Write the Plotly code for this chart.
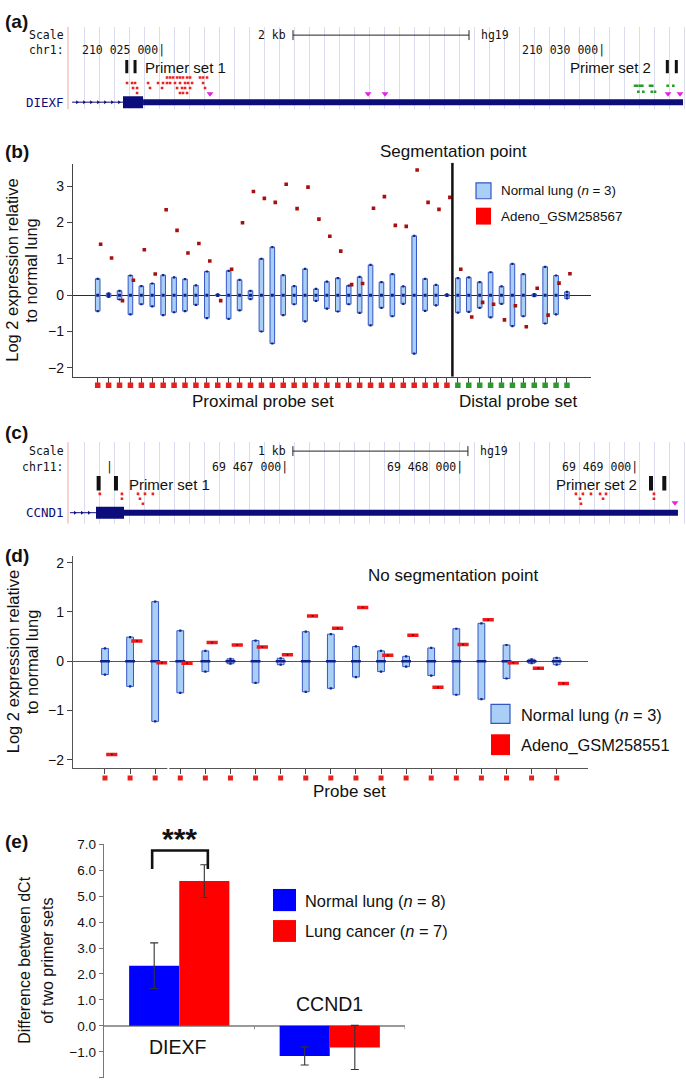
import numpy as np
import plotly.graph_objects as go

W, H = 686, 1083
SANS = "Arial, Liberation Sans, Helvetica, sans-serif"
MONO = "DejaVu Sans Mono, Liberation Mono, monospace"

# ========================= DATA =========================
# (a) UCSC view of the DIEXF locus, chr1 (hg19)
a_view = [210023920, 210030943]
a_gene_name = "DIEXF"
a_intron = [210023966, 210024545]
a_cds = [210024545, 210024773]
a_utr = [210024773, 210030909]
a_primer_set1 = [210024588, 210024682]
a_primer_set2 = [210030731, 210030833]
a_snp_red_rows = [
    [210025045, 210025080, 210025114, 210025159, 210025193, 210025227, 210025273, 210025307, 210025420, 210025455, 210025500],
    [210024591, 210024648, 210024682, 210024830, 210024943, 210025000, 210025045, 210025080, 210025136, 210025193, 210025250, 210025284, 210025330, 210025455],
    [210024659, 210024705, 210024852, 210024989, 210025159, 210025216, 210025250, 210025307, 210025477],
    [210024705, 210025193, 210025227, 210025273],
]
a_snp_green_rows = [
    [210030364, 210030390, 210030421, 210030447, 210030534, 210030560, 210030735, 210030799],
    [210030401, 210030458, 210030554, 210030591],
]
a_snp_magenta = [210025534, 210027330, 210027523, 210030739, 210030875]
a_ruler_ticks = [210025000, 210030000]
a_scale_bar = [210026477, 210028477]
a_scale_label = "2 kb"
a_chrom = "chr1:"

# (b) DIEXF probes: normal lung range (n = 3) and Adeno_GSM258567
b_normal_high = [0.45, 0.05, 0.12, 0.54, 0.25, 0.32, 0.55, 0.49, 0.44, 0.27, 0.65, 0.02, 0.67, 0.42, 0.12, 1.00,
                 1.32, 0.55, 0.25, 0.72, 0.17, 0.37, 0.47, 0.26, 0.50, 0.83, 0.36, 0.58, 0.24, 1.63, 0.45, 0.28,
                 0.02, 0.47, 0.49, 0.36, 0.63, 0.24, 0.86, 0.58, 0.03, 0.78, 0.54, 0.09]
b_normal_low = [-0.44, -0.05, -0.12, -0.53, -0.25, -0.31, -0.55, -0.47, -0.44, -0.27, -0.63, -0.02, -0.65, -0.42,
                -0.11, -1.00, -1.33, -0.55, -0.25, -0.72, -0.16, -0.37, -0.45, -0.25, -0.49, -0.83, -0.35, -0.58,
                -0.24, -1.61, -0.43, -0.28, -0.02, -0.48, -0.46, -0.35, -0.61, -0.24, -0.85, -0.58, -0.03, -0.78,
                -0.53, -0.09]
b_adeno = [1.40, 1.02, -0.15, 0.41, 1.25, 0.58, 2.35, 1.78, 1.16, 1.42, 0.94, -0.15, 0.71, 1.99, 2.85, 2.66, 2.55,
           3.05, 2.38, 2.97, 2.09, 1.62, 1.21, 0.29, 0.32, 2.39, 2.71, 1.92, 1.89, 3.44, 2.55, 2.36, 2.69, 0.71,
           -0.60, -0.20, -0.25, -0.68, -0.29, -0.87, 0.19, -0.55, 0.33, 0.59]
b_n_proximal = 33
b_n_distal = 11
b_yticks = [-2, -1, 0, 1, 2, 3]

# (c) UCSC view of the CCND1 locus, chr11 (hg19)
c_view = [69465749, 69469280]
c_gene_name = "CCND1"
c_intron = [69465760, 69465909]
c_cds = [69465909, 69466069]
c_utr = [69466069, 69469234]
c_primer_set1 = [69465924, 69466023]
c_primer_set2 = [69469080, 69469156]
c_snp_red_rows = [
    [69465931, 69466057, 69466149, 69466189, 69466234, 69468651, 69468691, 69468737, 69468789, 69468823, 69469097],
    [69466057, 69466160, 69468674, 69468806, 69469097],
    [69466177, 69468680],
]
c_snp_magenta = [69469217]
c_ruler_ticks = [69466000, 69467000, 69468000, 69469000]
c_scale_bar = [69467034, 69468034]
c_scale_label = "1 kb"
c_chrom = "chr11:"

# (d) CCND1 probes: normal lung range (n = 3) and Adeno_GSM258551
d_normal_high = [0.26, 0.49, 1.21, 0.62, 0.21, 0.05, 0.42, 0.06, 0.60, 0.55, 0.30, 0.21, 0.10, 0.27, 0.66, 0.77,
                 0.33, 0.04, 0.07]
d_normal_low = [-0.27, -0.51, -1.22, -0.64, -0.21, -0.05, -0.44, -0.07, -0.62, -0.55, -0.32, -0.21, -0.11, -0.29,
                -0.68, -0.77, -0.35, -0.04, -0.07]
d_adeno = [-1.89, 0.41, -0.03, -0.04, 0.38, 0.33, 0.29, 0.13, 0.92, 0.67, 1.09, 0.12, 0.53, -0.53, 0.34, 0.84,
           -0.03, -0.14, -0.45]
d_yticks = [-2, -1, 0, 1, 2]

# (e) qPCR: difference between dCt of the two primer sets
e_genes = ["DIEXF", "CCND1"]
e_normal = [2.32, -1.16]
e_normal_err = [0.88, 0.35]
e_cancer = [5.58, -0.83]
e_cancer_err = [0.63, 0.85]
e_yticks = [-2, -1, 0, 1, 2, 3, 4, 5, 6, 7]

# ========================= STYLE / HELPERS =========================
NAVY = "#0c0c7a"
BOX_FILL = "#a9cff7"
BOX_LINE = "#3557c4"
DARK_BLUE = "#10208a"
PROBE_RED = "#e8201c"
PROBE_GREEN = "#2a9a2a"
SNP_RED = "#ec2222"
MAGENTA = "#e61ee6"
GRID = "#dcdcf0"


def px(x):
    return x / W


def py(y):
    return 1 - y / H


def dom_x(l, r):
    return [l / W, r / W]


def dom_y(t, b):
    return [1 - b / H, 1 - t / H]


def minus(v, fmt="{:g}"):
    s = fmt.format(abs(v))
    return ("\u2212" + s) if v < 0 else s


fig = go.Figure()
shapes = []
ann = []


def text(x, y, t, size, xanchor="center", yanchor="middle", xref="paper", yref="paper", color="#111",
         family=SANS, angle=0, xshift=0):
    ann.append(dict(x=x, y=y, text=t, xref=xref, yref=yref, xanchor=xanchor, yanchor=yanchor, showarrow=False,
                    font=dict(size=size, color=color, family=family), textangle=angle, xshift=xshift))


# ========================= BROWSER PANELS (a) & (c) =========================
def browser(ax, view, top, bot, ylay, gene_name, intron, cds, utr, p1, p2, snp_rows, snp_row_y, green_rows,
            green_row_y, magenta, magenta_y, ruler, scale_bar, scale_label, chrom, mono_size,
            p1_shift, p2_shift, primer_w, label_shift):
    xa = "x" if ax == 1 else "x%d" % ax
    ya = "y" if ax == 1 else "y%d" % ax
    ppb = (686 - 68) / (view[1] - view[0])
    fig.layout["xaxis" if ax == 1 else "xaxis%d" % ax] = dict(
        domain=dom_x(68, 686), range=view, anchor=ya, showgrid=True, gridcolor=GRID, gridwidth=1,
        tickmode="linear", tick0=view[0] + 16 / ppb, dtick=15 / ppb, ticks="", showticklabels=False,
        zeroline=False, showline=False)
    fig.layout["yaxis" if ax == 1 else "yaxis%d" % ax] = dict(
        domain=dom_y(top, bot), range=[bot, top], anchor=xa, showgrid=False, zeroline=False,
        showticklabels=False, ticks="", showline=False)
    # pink left border
    shapes.append(dict(type="line", xref="paper", yref="paper", x0=px(68), x1=px(68), y0=py(top), y1=py(bot),
                       line=dict(color="#f2a4a4", width=1)))
    # scale bar
    sy = ylay["scale"]
    shapes.append(dict(type="line", xref=xa, yref=ya, x0=scale_bar[0], x1=scale_bar[1], y0=sy, y1=sy,
                       line=dict(color="#222", width=1)))
    for xb in scale_bar:
        shapes.append(dict(type="line", xref=xa, yref=ya, x0=xb, x1=xb, y0=sy - 5, y1=sy + 5,
                           line=dict(color="#222", width=1)))
    text(scale_bar[0], sy, scale_label, mono_size, xanchor="right", xref=xa, yref=ya, family=MONO, xshift=-5)
    text(scale_bar[1], sy, "hg19", mono_size, xanchor="left", xref=xa, yref=ya, family=MONO, xshift=10)
    text(px(66), py(sy), "Scale", mono_size, xanchor="right", family=MONO)
    text(px(66), py(ylay["chrom"]), chrom, mono_size, xanchor="right", family=MONO)
    for i, t in enumerate(ruler):
        lab = (f"{t:,}".replace(",", " ") + "|") if i >= (len(ruler) - label_shift) else "|"
        text(t, ylay["chrom"], lab, mono_size, xanchor="right", xref=xa, yref=ya, family=MONO, xshift=3.5)
    # primers
    for xb in p1 + p2:
        shapes.append(dict(type="line", xref=xa, yref=ya, x0=xb, x1=xb, y0=ylay["p0"], y1=ylay["p1"],
                           line=dict(color="#111", width=primer_w)))
    text(p1[1], ylay["ptext"], "Primer set 1", 15, xanchor="left", xref=xa, yref=ya, xshift=p1_shift)
    text(p2[0], ylay["ptext"], "Primer set 2", 15, xanchor="right", xref=xa, yref=ya, xshift=p2_shift)
    # SNP dots
    for row, yy in zip(snp_rows, snp_row_y):
        fig.add_trace(go.Scatter(x=row, y=[yy] * len(row), mode="markers", xaxis=xa, yaxis=ya, hoverinfo="skip",
                                 marker=dict(symbol="square", size=2.6, color=SNP_RED, line=dict(width=0))))
    for row, yy in zip(green_rows, green_row_y):
        fig.add_trace(go.Scatter(x=row, y=[yy] * len(row), mode="markers", xaxis=xa, yaxis=ya, hoverinfo="skip",
                                 marker=dict(symbol="square", size=2.6, color=PROBE_GREEN, line=dict(width=0))))
    fig.add_trace(go.Scatter(x=magenta, y=[magenta_y] * len(magenta), mode="markers", xaxis=xa, yaxis=ya,
                             hoverinfo="skip",
                             marker=dict(symbol="triangle-down", size=6, color=MAGENTA, line=dict(width=0))))
    # gene model
    gy = ylay["gene"]
    fig.add_trace(go.Scatter(x=intron, y=[gy, gy], mode="lines", xaxis=xa, yaxis=ya, hoverinfo="skip",
                             line=dict(color=NAVY, width=1)))
    chev = np.arange(intron[0] + 5 / ppb, intron[1] - 3 / ppb, 7 / ppb)
    fig.add_trace(go.Scatter(x=chev, y=[gy] * len(chev), mode="markers", xaxis=xa, yaxis=ya, hoverinfo="skip",
                             marker=dict(symbol="triangle-right", size=3.5, color=NAVY, line=dict(width=0))))
    shapes.append(dict(type="rect", xref=xa, yref=ya, x0=cds[0], x1=cds[1], y0=gy - 6, y1=gy + 6,
                       fillcolor=NAVY, line=dict(width=0)))
    shapes.append(dict(type="rect", xref=xa, yref=ya, x0=utr[0], x1=utr[1], y0=gy - 3, y1=gy + 3,
                       fillcolor=NAVY, line=dict(width=0)))
    text(px(66), py(gy), gene_name, mono_size + 1, xanchor="right", family=MONO, color=NAVY)


browser(1, a_view, 20, 103,
        dict(scale=28.3, chrom=43.5, p0=53.3, p1=66.7, ptext=61, gene=95.8),
        a_gene_name, a_intron, a_cds, a_utr, a_primer_set1, a_primer_set2,
        a_snp_red_rows, [71, 76.5, 81.5, 86.5], a_snp_green_rows, [79.3, 85.3],
        a_snp_magenta, 87.3, a_ruler_ticks, a_scale_bar, a_scale_label, a_chrom, 11.5,
        8, -14, 3, 2)

browser(3, c_view, 438, 520,
        dict(scale=447, chrom=462.5, p0=472, p1=486.7, ptext=480.5, gene=509),
        c_gene_name, c_intron, c_cds, c_utr, c_primer_set1, c_primer_set2,
        c_snp_red_rows, [490, 495, 500], [], [],
        c_snp_magenta, 499, c_ruler_ticks, c_scale_bar, c_scale_label, c_chrom, 11.5,
        11, -12, 4, 3)

# ========================= PANEL (b) =========================
B_TOP, B_BOT = 158, 372
B_YR = [-2.240, 3.607]
b_idx = np.arange(1, b_n_proximal + b_n_distal + 1)
b_high = np.array(b_normal_high)
b_low = np.array(b_normal_low)

fig.add_trace(go.Bar(x=b_idx, y=b_high - b_low, base=b_low, width=0.42, xaxis="x2", yaxis="y2",
                     marker=dict(color=BOX_FILL, line=dict(color=BOX_LINE, width=1)), hoverinfo="skip"))
fig.add_trace(go.Scatter(x=np.concatenate([b_idx, b_idx]), y=np.concatenate([b_high, b_low]), mode="markers",
                         xaxis="x2", yaxis="y2", hoverinfo="skip",
                         marker=dict(symbol="square", size=2.2, color=DARK_BLUE)))
fig.add_trace(go.Scatter(x=b_idx, y=[0] * len(b_idx), mode="markers", xaxis="x2", yaxis="y2", hoverinfo="skip",
                         marker=dict(symbol="square", size=3, color=DARK_BLUE)))
fig.add_trace(go.Scatter(x=b_idx + 0.27, y=b_adeno, mode="markers", xaxis="x2", yaxis="y2", hoverinfo="skip",
                         marker=dict(symbol="square", size=3.6, color="#a81010", line=dict(width=0))))
b_probe_colors = [PROBE_RED] * b_n_proximal + [PROBE_GREEN] * b_n_distal
# probe-set strip below the axis (own thin y axis)
fig.add_trace(go.Scatter(x=b_idx, y=[0.5] * len(b_idx), mode="markers", xaxis="x2", yaxis="y6",
                         hoverinfo="skip",
                         marker=dict(symbol="square", size=5.5, color=b_probe_colors, line=dict(width=0))))

fig.layout.xaxis2 = dict(domain=dom_x(73, 591), range=[-1.263, 46.2], anchor="y2", showgrid=False, zeroline=False,
                         showline=True, linecolor="#444", linewidth=1.2, ticks="outside", ticklen=5,
                         tickcolor="#444", tickwidth=1, tickvals=list(b_idx), showticklabels=False)
fig.layout.yaxis2 = dict(domain=dom_y(B_TOP, B_BOT), range=B_YR, anchor="x2", showgrid=False, zeroline=True,
                         zerolinecolor="#1c2866", zerolinewidth=1.2, showline=True, linecolor="#444",
                         linewidth=1.2, ticks="outside", ticklen=5, tickcolor="#444", tickvals=b_yticks,
                         ticktext=[minus(v) for v in b_yticks], tickfont=dict(size=14, color="#111", family=SANS))
fig.layout.yaxis6 = dict(domain=dom_y(375.7, 385.7), range=[0, 1], anchor="x2", visible=False,
                         showgrid=False, zeroline=False)
# segmentation point
seg = b_n_proximal + 0.5
shapes.append(dict(type="line", xref="x2", yref="y2 domain", x0=seg, x1=seg, y0=0, y1=1.005,
                   line=dict(color="#111", width=2.5)))
text(px(453), py(145), "Segmentation point", 17)
text(px(263), py(397), "Proximal probe set", 17)
text(px(517.5), py(397), "Distal probe set", 17)
text(px(12.5), py(265), "Log 2 expression relative", 16.5, angle=-90)
text(px(31.5), py(265), "to normal lung", 16.5, angle=-90)
shapes.append(dict(type="rect", xref="paper", yref="paper", x0=px(476), x1=px(491), y0=py(193), y1=py(177),
                   fillcolor=BOX_FILL, line=dict(color=BOX_LINE, width=1.2)))
shapes.append(dict(type="rect", xref="paper", yref="paper", x0=px(476), x1=px(491), y0=py(219), y1=py(202),
                   fillcolor="#ff0000", line=dict(width=0)))
text(px(498.5), py(185), "Normal lung (<i>n</i> = 3)", 13.4, xanchor="left")
text(px(498.5), py(210.5), "Adeno_GSM258567", 13.4, xanchor="left")

# ========================= PANEL (d) =========================
D_TOP, D_BOT = 553, 765.7
D_YR = [-2.161, 2.127]
d_idx = np.arange(1, len(d_adeno) + 1)
d_high = np.array(d_normal_high)
d_low = np.array(d_normal_low)

fig.add_trace(go.Bar(x=d_idx, y=d_high - d_low, base=d_low, width=0.27, xaxis="x4", yaxis="y4",
                     marker=dict(color=BOX_FILL, line=dict(color=BOX_LINE, width=1)), hoverinfo="skip"))
fig.add_trace(go.Scatter(x=np.concatenate([d_idx, d_idx]), y=np.concatenate([d_high, d_low]), mode="markers",
                         xaxis="x4", yaxis="y4", hoverinfo="skip",
                         marker=dict(symbol="square", size=2.2, color=DARK_BLUE)))
fig.add_trace(go.Scatter(x=d_idx, y=[0] * len(d_idx), mode="markers", xaxis="x4", yaxis="y4", hoverinfo="skip",
                         marker=dict(symbol="line-ew", size=7, line=dict(color=DARK_BLUE, width=2.5))))
fig.add_trace(go.Scatter(x=d_idx + 0.27, y=d_adeno, mode="markers", xaxis="x4", yaxis="y4", hoverinfo="skip",
                         marker=dict(symbol="line-ew", size=8, line=dict(color="#f01818", width=3.5))))
fig.add_trace(go.Scatter(x=d_idx + 0.27, y=d_adeno, mode="markers", xaxis="x4", yaxis="y4", hoverinfo="skip",
                         marker=dict(symbol="square", size=1.6, color="#700000")))
fig.add_trace(go.Scatter(x=d_idx, y=[0.5] * len(d_idx), mode="markers", xaxis="x4", yaxis="y7",
                         hoverinfo="skip",
                         marker=dict(symbol="square", size=5, color=PROBE_RED, line=dict(width=0))))

fig.layout.xaxis4 = dict(domain=dom_x(73, 587.7), range=[-0.275, 20.236], anchor="y4", showgrid=False,
                         zeroline=False, showline=True, linecolor="#555", linewidth=1.2, ticks="outside",
                         ticklen=5, tickcolor="#444", tickvals=list(d_idx), showticklabels=False)
fig.layout.yaxis4 = dict(domain=dom_y(D_TOP, D_BOT), range=D_YR, anchor="x4", showgrid=False, zeroline=True,
                         zerolinecolor="#555", zerolinewidth=1.2, showline=True, linecolor="#555",
                         linewidth=1.2, ticks="outside", ticklen=5, tickcolor="#444", tickvals=d_yticks,
                         ticktext=[minus(v) for v in d_yticks], tickfont=dict(size=14, color="#111", family=SANS))
fig.layout.yaxis7 = dict(domain=dom_y(771, 781), range=[0, 1], anchor="x4", visible=False,
                         showgrid=False, zeroline=False)
# small white break seen in the axis
shapes.append(dict(type="rect", xref="paper", yref="paper", x0=px(167.3), x1=px(169.3), y0=py(768), y1=py(655),
                   fillcolor="white", line=dict(width=0), layer="above"))
text(px(453), py(571.7), "No segmentation point", 17)
text(px(349.5), py(790), "Probe set", 17)
text(px(12.5), py(659), "Log 2 expression relative", 16.5, angle=-90)
text(px(31.5), py(659), "to normal lung", 16.5, angle=-90)
shapes.append(dict(type="rect", xref="paper", yref="paper", x0=px(491), x1=px(510), y0=py(721), y1=py(702),
                   fillcolor=BOX_FILL, line=dict(color=BOX_LINE, width=1.2)))
shapes.append(dict(type="rect", xref="paper", yref="paper", x0=px(491), x1=px(510), y0=py(753), y1=py(732),
                   fillcolor="#ff0000", line=dict(width=0)))
text(px(518.5), py(712.5), "Normal lung (<i>n</i> = 3)", 16.4, xanchor="left")
text(px(518.5), py(743), "Adeno_GSM258551", 16.4, xanchor="left")

# ========================= PANEL (e) =========================
err_style = dict(type="data", color="#333", thickness=1.1, width=4)
fig.add_trace(go.Bar(x=e_genes, y=e_normal, error_y=dict(array=e_normal_err, **err_style), xaxis="x5",
                     yaxis="y5", marker=dict(color="#0000ff", line=dict(width=0)), name="Normal lung"))
fig.add_trace(go.Bar(x=e_genes, y=e_cancer, error_y=dict(array=e_cancer_err, **err_style), xaxis="x5",
                     yaxis="y5", marker=dict(color="#ff0000", line=dict(width=0)), name="Lung cancer"))
fig.layout.xaxis5 = dict(domain=dom_x(104, 405), range=[-0.5, 1.5], type="category", anchor="y5",
                         showgrid=False, zeroline=False, showline=False, ticks="", showticklabels=False)
fig.layout.yaxis5 = dict(domain=dom_y(842.7, 1077.7), range=[-2, 7], anchor="x5", showgrid=False, zeroline=True,
                         zerolinecolor="#9a9a9a", zerolinewidth=1.5, showline=True, linecolor="#777",
                         linewidth=1.2, ticks="outside", ticklen=4, tickcolor="#777", tickvals=e_yticks,
                         ticktext=[minus(v, "{:.1f}") for v in e_yticks],
                         tickfont=dict(size=13.5, color="#111", family=SANS))
for xb in [0.5, 1.5]:
    shapes.append(dict(type="line", xref="x5", yref="y5", x0=xb, x1=xb, y0=0, y1=-0.13,
                       line=dict(color="#8a8a8a", width=1)))
# significance bracket
shapes.append(dict(type="path", xref="x5", yref="y5", path="M -0.18,6.05 L -0.18,6.76 L 0.19,6.76 L 0.19,6.05",
                   line=dict(color="#111", width=2.6)))
text(px(180), py(836.5), "<b>***</b>", 30)
text(px(178), py(1046.7), "DIEXF", 19.5)
text(px(329), py(1003), "CCND1", 19.5)
text(px(25), py(960), "Difference between dCt", 16, angle=-90)
text(px(48), py(960), "of two primer sets", 16, angle=-90)
shapes.append(dict(type="rect", xref="paper", yref="paper", x0=px(273), x1=px(296), y0=py(910), y1=py(887.7),
                   fillcolor="#0000ff", line=dict(width=0)))
shapes.append(dict(type="rect", xref="paper", yref="paper", x0=px(273), x1=px(296), y0=py(941), y1=py(919),
                   fillcolor="#ff0000", line=dict(width=0)))
text(px(302.5), py(900), "Normal lung (<i>n</i> = 8)", 16.4, xanchor="left")
text(px(302.5), py(930.5), "Lung cancer (<i>n</i> = 7)", 16.4, xanchor="left")

# ========================= PANEL LABELS =========================
for lab, yy in [("(a)", 14.5), ("(b)", 145.5), ("(c)", 428.5), ("(d)", 552.5), ("(e)", 839.5)]:
    text(px(2.5), py(yy), "<b>%s</b>" % lab, 19, xanchor="left")

fig.update_layout(width=W, height=H, margin=dict(l=0, r=0, t=0, b=0), plot_bgcolor="white",
                  paper_bgcolor="white", showlegend=False, barmode="group", bargap=0.334, bargroupgap=0,
                  hovermode=False, dragmode=False,
                  shapes=shapes, annotations=ann, font=dict(family=SANS, color="#111"))
fig.write_html("out.html", config={"displayModeBar": False, "staticPlot": True},
               post_script="document.body.style.margin='0';document.body.style.overflow='hidden';")
